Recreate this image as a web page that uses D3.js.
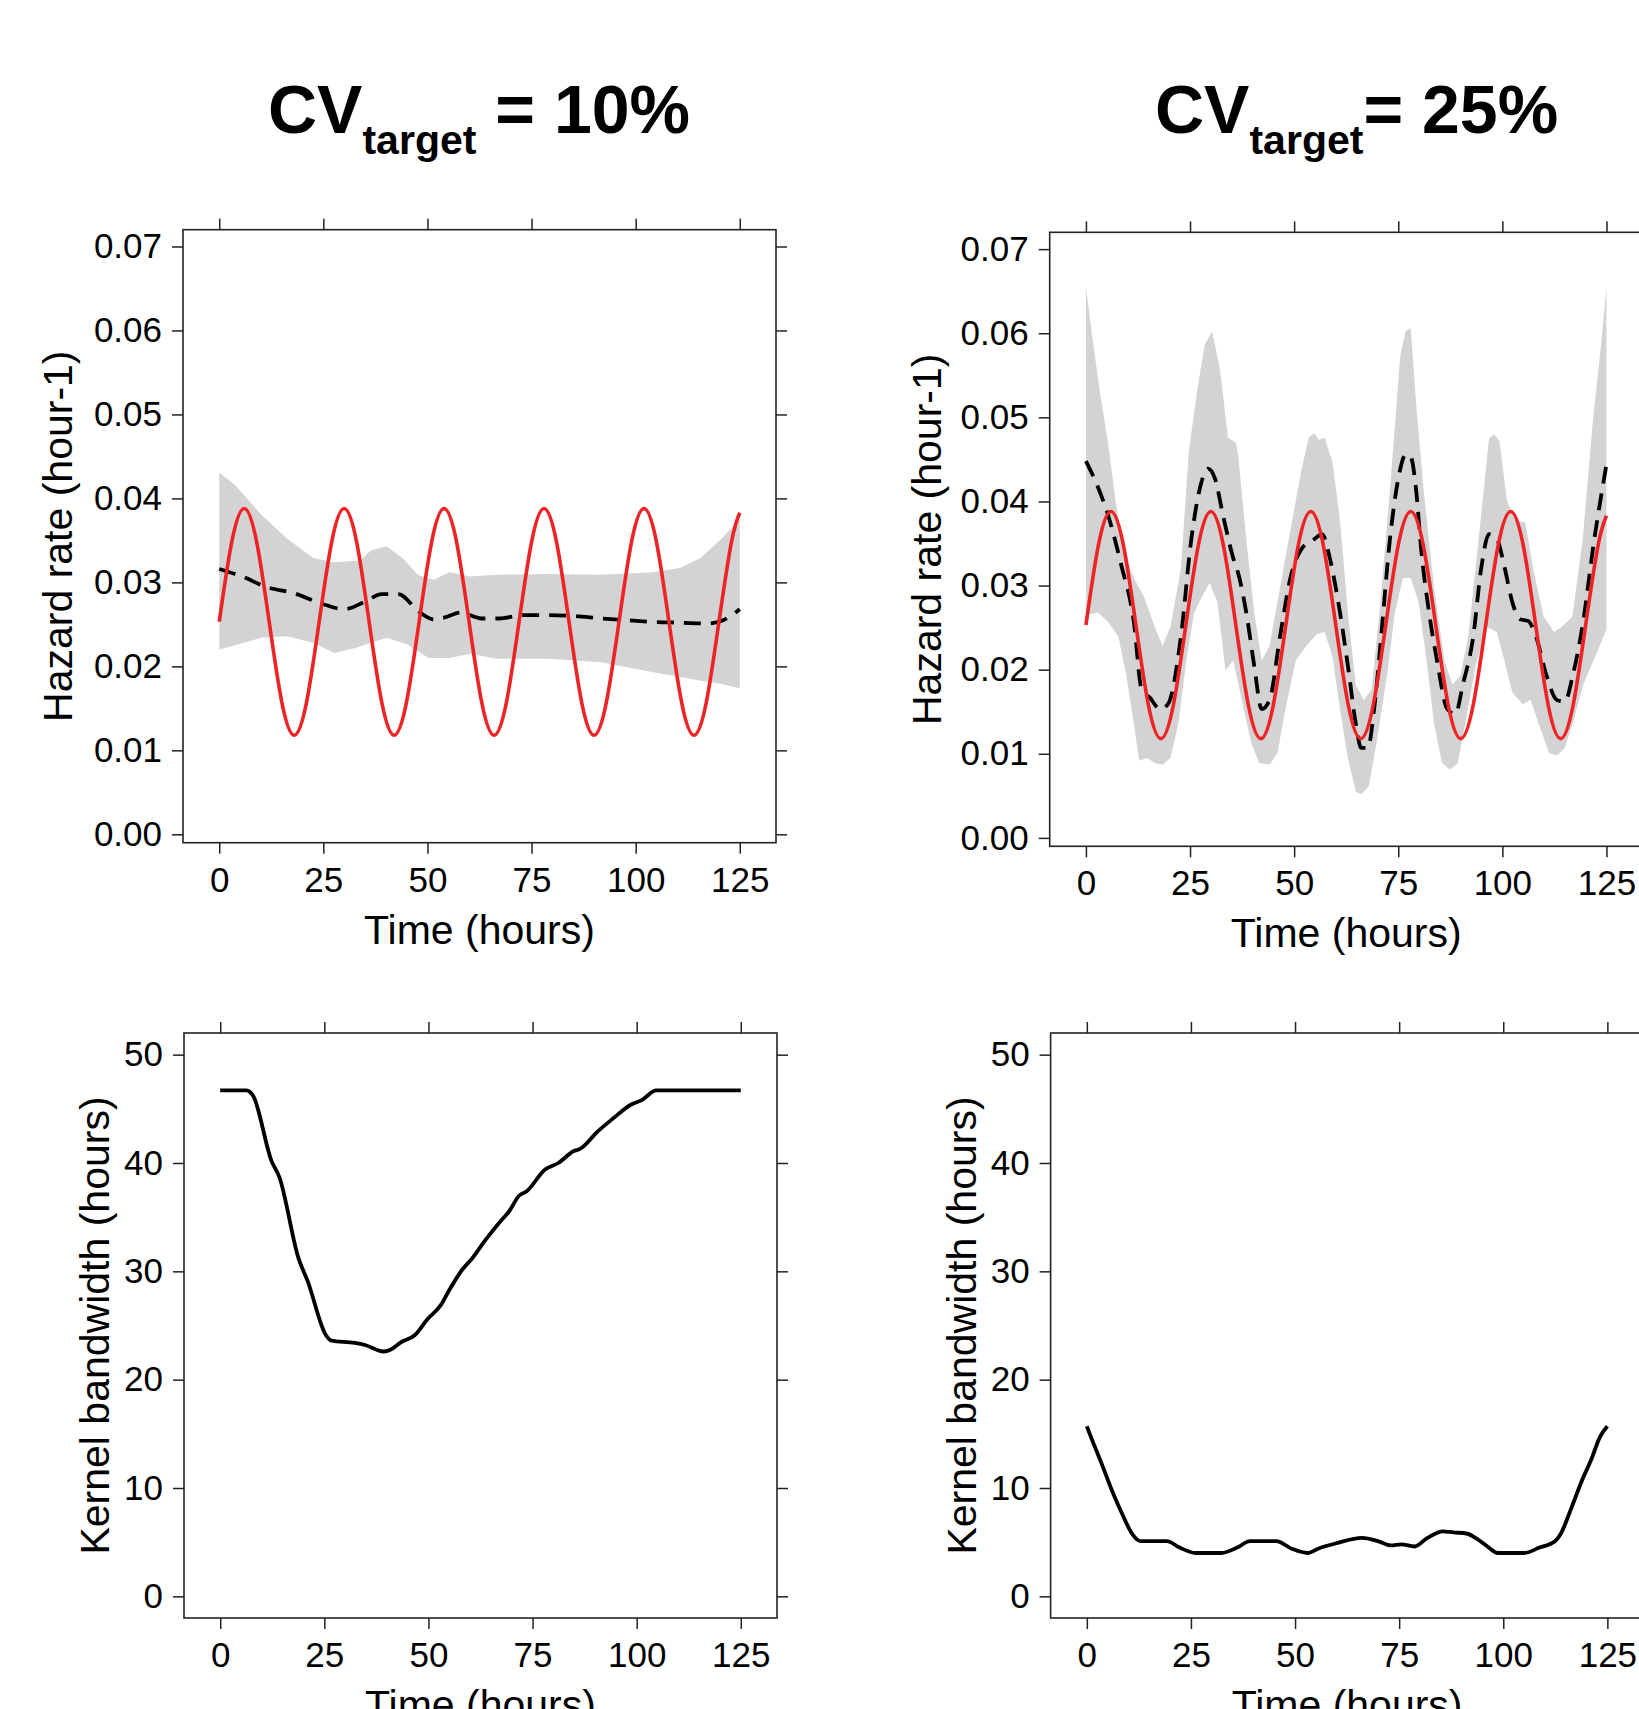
<!DOCTYPE html>
<html>
<head>
<meta charset="utf-8">
<script src="https://cdn.jsdelivr.net/npm/d3@7"></script>
<style>
body { margin: 0; background: #fff; }
svg { display: block; font-family: "Liberation Sans", Arial, sans-serif; }
</style>
</head>
<body>
<script>
// ---- data ----
var xTicks = [0, 25, 50, 75, 100, 125];
var hazTicks = [0, 0.01, 0.02, 0.03, 0.04, 0.05, 0.06, 0.07];
var bwTicks = [0, 10, 20, 30, 40, 50];

// true hazard (red)
var trueT = [0,3,6,9,12,15,18,21,24,27,30,33,36,39,42,45,48,51,54,57,60,63,66,69,72,75,78,81,84,87,90,93,96,99,102,105,108,111,114,117,120,123,125];
var trueH = [.0253,.0348,.0388,.0348,.0253,.0158,.0118,.0158,
             .0253,.0348,.0388,.0348,.0253,.0158,.0118,.0158,
             .0253,.0348,.0388,.0348,.0253,.0158,.0118,.0158,
             .0253,.0348,.0388,.0348,.0253,.0158,.0118,.0158,
             .0253,.0348,.0388,.0348,.0253,.0158,.0118,.0158,
             .0253,.0348,.0383];

// CV 10% : estimate and band
var est10T = [0,6,11,18,25,30,35,39,43,48,51.5,54,58,63,67,73,79,85,92,98,104,111,117,121,125];
var est10  = [.0316,.0306,.0295,.0287,.0274,.0268,.0277,.0286,.0286,.0265,.0256,.0258,.0264,.0257,.0257,.0261,.0261,.0260,.0257,.0255,.0253,.0252,.0251,.0255,.0268];
var ciUp10T = [0,3.8,10,16.3,22.6,27.6,33.9,36.4,40.2,44,47.7,51.5,55.3,60.3,66.6,79,91.7,104,110.6,115.6,120.6,125];
var ciUp10  = [.0431,.0416,.0381,.0352,.0329,.0324,.0326,.0338,.0343,.0329,.0309,.0303,.0312,.0307,.0309,.031,.0309,.0312,.0317,.0329,.0352,.0375];
var ciLo10T = [0,3.8,10,16.3,22.6,27.6,32.7,40.2,45.2,50.3,55.3,60.3,66.6,79,91.7,104.3,114.3,120.6,125];
var ciLo10  = [.0220,.0225,.0234,.0236,.0228,.0216,.0222,.0234,.0226,.0210,.0210,.0215,.0209,.0209,.0205,.0193,.0184,.0179,.0174];

// CV 25% : estimate and band
var est25T = [0,2.8,5.3,8.4,11.5,13.4,15.3,17.8,19.7,22.8,25.3,27.8,29.3,31,32.9,35.4,36.6,38.5,40.4,42.2,44.1,46.6,49.1,51.7,54.8,56.7,58.6,60.4,62.9,64.8,66.1,67.7,69.2,71.1,73,74.9,76.8,78,79.3,80.5,82.4,84.3,86.8,88.7,90.5,93,94.9,96.8,98.7,100.6,102.4,104.3,106.2,108.1,110.6,113.1,115,116.9,119.4,121.9,125];
var est25  = [.0448,.0418,.0384,.0326,.0257,.0176,.0167,.0153,.0159,.0239,.0355,.0424,.0439,.0427,.0384,.0332,.0314,.0268,.0205,.0153,.0164,.0239,.0309,.0343,.0355,.0361,.0332,.0286,.0205,.0136,.0107,.0107,.0153,.0251,.0355,.0424,.0456,.0453,.0413,.0343,.0268,.0211,.0153,.0147,.0182,.0239,.0320,.0361,.0355,.0320,.0280,.0260,.0258,.0239,.0193,.0164,.0162,.0193,.0257,.0349,.0444];
var ciUp25T = [0,1.5,3.4,5.3,7.1,9,11.5,14,16.5,18.4,20.3,22.8,24.7,26.6,28.5,30.3,32.2,34.1,36,36.6,38.5,40.4,42.2,44.1,46.6,49.1,51.7,53.5,54.8,56,57.3,59.2,61,62.9,64.8,66.7,68.6,70.5,73,75.5,76.8,78,79.3,81.1,83.6,86.1,88,89.9,91.8,94.3,96.8,98,99.3,101.1,103,105.5,107.4,109.9,112.4,114.3,116.8,119.3,121.8,123.7,125];
var ciUp25  = [.0655,.0597,.0528,.047,.0401,.0343,.0309,.0286,.0251,.0228,.0251,.032,.0459,.0528,.0586,.0602,.0557,.0476,.047,.0453,.0355,.0268,.0211,.0228,.0297,.0366,.0436,.0476,.0481,.0473,.0476,.0447,.0378,.0268,.0182,.0164,.0176,.0268,.0413,.0574,.0603,.0606,.0516,.0413,.0297,.0211,.0182,.0193,.0239,.0355,.0475,.048,.0472,.0401,.0378,.0375,.032,.0263,.0245,.0251,.0263,.0355,.0499,.0586,.0655];
var ciLo25T = [0,2.8,5.3,7.8,9.7,11.5,12.8,14.7,16.5,18.4,20.3,22.2,24.1,26,27.8,29.7,31.6,33.5,35.4,37.9,39.7,41.6,44.1,46,47.9,50.4,52.9,55.4,57.3,59.2,61,62.9,64.8,66.1,67.9,69.8,72.3,74.2,76.1,78,79.9,81.8,83.6,85.5,87.4,89.3,91.1,93.6,96.1,98.6,100.5,102.4,104.9,106.8,108.7,111.2,113.1,115,116.9,119.4,121.9,125];
var ciLo25  = [.0265,.0268,.0257,.0239,.0193,.0136,.0092,.0095,.0089,.0087,.0095,.0136,.0211,.0268,.0286,.0303,.028,.0199,.0211,.0153,.0113,.0089,.0087,.0101,.0153,.0211,.0228,.0242,.0245,.0216,.0153,.0095,.0055,.0052,.0061,.0113,.0193,.0268,.0309,.0309,.028,.0211,.0136,.0089,.0081,.0089,.0136,.0205,.0251,.0245,.0211,.0173,.0159,.0164,.0136,.0101,.0098,.0107,.0136,.0182,.0211,.0248];

// kernel bandwidth
var bw10T = [0,6.3,7.9,12.3,14.2,18.8,21,25.4,26.7,32.3,34.8,39.2,40.5,43.6,46.7,49.8,53,54.9,58,60.5,63.7,66.8,69.3,71.8,73.6,78,81.2,84.9,86.4,90.6,94.3,98.7,101.2,104.7,125];
var bw10  = [46.7,46.7,46.2,40.2,38.7,31.2,29.1,24.1,23.6,23.4,23.2,22.6,22.7,23.5,24.1,25.6,26.9,28.2,30.1,31.2,32.9,34.4,35.5,37.0,37.4,39.4,40.0,41.1,41.3,42.9,44.1,45.4,45.8,46.7,46.7];
var bw25T = [0,1,3.5,6,8.5,11,12.9,16,19.2,22.3,26.1,32.3,36.1,39.2,45.5,49.2,53,55.5,59.9,66.1,69.9,73,75.5,78.7,81.8,85.5,88,91.2,93.7,96.2,98.7,105,108.7,112.5,113.7,116.3,118.8,121.3,123.2,125];
var bw25  = [15.7,14.7,12.3,9.8,7.6,5.7,5.1,5.1,5.1,4.5,4.0,4.0,4.5,5.1,5.1,4.4,4.0,4.4,4.9,5.4,5.1,4.7,4.8,4.6,5.4,6.0,5.9,5.8,5.3,4.6,4.0,4.0,4.5,5.1,5.7,8.1,10.6,12.8,14.7,15.7];

var W = 1639, H = 1709;
var FONT = '"Liberation Sans", Arial, sans-serif';
var zip = function(t, v) { return t.map(function(d, i) { return [d, v[i]]; }); };

var svg = d3.select("body").append("svg")
  .attr("width", W)
  .attr("height", H);

svg.append("rect").attr("width", W).attr("height", H).attr("fill", "#fff");

// column titles  CV_target = x%
function colTitle(x, rest) {
  var t = svg.append("text")
    .attr("x", x).attr("y", 133)
    .attr("font-family", FONT)
    .attr("font-weight", "bold")
    .attr("font-size", 68);
  t.append("tspan").text("CV");
  t.append("tspan").attr("font-size", 41).attr("dy", 21).text("target");
  t.append("tspan").attr("dy", -21).text(rest);
}
colTitle(268, " = 10%");
colTitle(1155, "= 25%");

// one panel: box, ticks on all 4 sides, labels left/bottom
function panel(p) {
  var x = d3.scaleLinear().domain([-8.7, 133.7]).range([p.left, p.left + p.w]);
  var y = d3.scaleLinear().domain(p.yDom).range([p.top + p.h, p.top]);
  var g = svg.append("g");
  var plot = g.append("g");

  function ax(gen, tr) { return g.append("g").attr("transform", tr).call(gen); }
  ax(d3.axisBottom(x).tickValues(xTicks).tickSize(11).tickPadding(13), "translate(0," + (p.top + p.h) + ")");
  ax(d3.axisTop(x).tickValues(xTicks).tickSize(11).tickFormat(""), "translate(0," + p.top + ")");
  ax(d3.axisLeft(y).tickValues(p.yTicks).tickSize(11).tickPadding(10).tickFormat(p.fmt), "translate(" + p.left + ",0)");
  ax(d3.axisRight(y).tickValues(p.yTicks).tickSize(11).tickFormat(""), "translate(" + (p.left + p.w) + ",0)");
  g.selectAll(".domain").remove();
  g.selectAll(".tick line").attr("stroke", "#222").attr("stroke-width", 1.5);
  g.selectAll(".tick text")
    .attr("font-family", FONT)
    .attr("font-size", 35)
    .attr("fill", "#000");

  g.append("rect")
    .attr("x", p.left).attr("y", p.top)
    .attr("width", p.w).attr("height", p.h)
    .attr("fill", "none").attr("stroke", "#222").attr("stroke-width", 1.6);

  g.append("text")
    .attr("x", p.left + p.w / 2).attr("y", p.top + p.h + 101)
    .attr("text-anchor", "middle")
    .attr("font-family", FONT).attr("font-size", 41)
    .text("Time (hours)");

  g.append("text")
    .attr("transform", "translate(" + (p.left - p.yOff) + "," + (p.top + p.h / 2) + ") rotate(-90)")
    .attr("text-anchor", "middle")
    .attr("font-family", FONT).attr("font-size", 41)
    .text(p.yTitle);

  return { x: x, y: y, plot: plot };
}

function hazardPanel(p, upT, up, loT, lo, estT, est) {
  var P = panel(p);
  var line = d3.line().x(function(d) { return P.x(d[0]); }).y(function(d) { return P.y(d[1]); });
  var band = zip(upT, up).concat(zip(loT, lo).reverse());
  P.plot.append("path")
    .attr("d", line.curve(d3.curveLinearClosed)(band))
    .attr("fill", "#d3d3d3");
  P.plot.append("path")
    .attr("d", line.curve(d3.curveMonotoneX)(zip(estT, est)))
    .attr("fill", "none").attr("stroke", "#000")
    .attr("stroke-width", 3.8).attr("stroke-dasharray", "17,10");
  P.plot.append("path")
    .attr("d", line.curve(d3.curveNatural)(zip(trueT, trueH)))
    .attr("fill", "none").attr("stroke", "#ee2326")
    .attr("stroke-width", 3.6);
}

function bwPanel(p, t, v) {
  var P = panel(p);
  var line = d3.line().x(function(d) { return P.x(d[0]); }).y(function(d) { return P.y(d[1]); })
    .curve(d3.curveMonotoneX);
  P.plot.append("path")
    .attr("d", line(zip(t, v)))
    .attr("fill", "none").attr("stroke", "#000")
    .attr("stroke-width", 3.8).attr("stroke-linejoin", "round");
}

var hazFmt = d3.format(".2f");
hazardPanel({ left: 183, top: 229.7, w: 593, h: 613, yDom: [-0.001, 0.072], yTicks: hazTicks, fmt: hazFmt,
  yOff: 111, yTitle: "Hazard rate (hour-1)" }, ciUp10T, ciUp10, ciLo10T, ciLo10, est10T, est10);
hazardPanel({ left: 1049.7, top: 232.3, w: 593, h: 614, yDom: [-0.001, 0.072], yTicks: hazTicks, fmt: hazFmt,
  yOff: 109, yTitle: "Hazard rate (hour-1)" }, ciUp25T, ciUp25, ciLo25T, ciLo25, est25T, est25);
bwPanel({ left: 184, top: 1033, w: 593, h: 585, yDom: [-2, 52], yTicks: bwTicks, fmt: d3.format("d"),
  yOff: 75, yTitle: "Kernel bandwidth (hours)" }, bw10T, bw10);
bwPanel({ left: 1050.6, top: 1033, w: 593, h: 585, yDom: [-2, 52], yTicks: bwTicks, fmt: d3.format("d"),
  yOff: 75, yTitle: "Kernel bandwidth (hours)" }, bw25T, bw25);
</script>
</body>
</html>
